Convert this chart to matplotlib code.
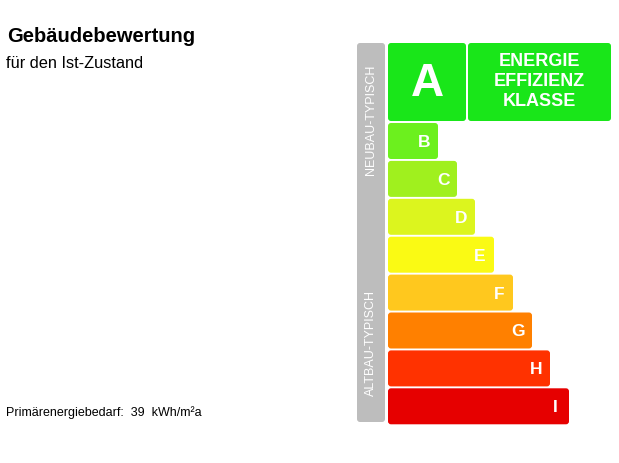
import matplotlib
matplotlib.use("Agg")
import matplotlib.pyplot as plt
from matplotlib.patches import FancyBboxPatch

plt.rcParams['font.family'] = ['Liberation Sans', 'DejaVu Sans']

# data
classes = ['B', 'C', 'D', 'E', 'F', 'G', 'H', 'I']
class_colors = ['#6cf01e', '#a0f01e', '#dcf51e', '#fafa14', '#ffc81e', '#ff8000', '#ff3200', '#e60000']
bar_lengths = [50, 69, 87, 106, 125, 144, 162, 181]
title = 'Gebäudebewertung'
subtitle = 'für den Ist-Zustand'
demand_value = 39
demand_unit = 'kWh/m²a'
side_labels = ['NEUBAU-TYPISCH', 'ALTBAU-TYPISCH']
badge_lines = ['ENERGIE', 'EFFIZIENZ', 'KLASSE']
top_class = 'A'
top_color = '#19e619'
side_color = '#bdbdbd'

W, H = 619, 464
fig = plt.figure(figsize=(W / 100, H / 100), dpi=100)
ax = fig.add_axes([0, 0, 1, 1])
ax.set_xlim(0, W)
ax.set_ylim(H, 0)
ax.axis('off')


def rbox(x, y, w, h, color, r=3):
    p = FancyBboxPatch((x + r, y + r), w - 2 * r, h - 2 * r,
                       boxstyle=f"round,pad={r}", fc=color, ec='none')
    ax.add_patch(p)


# layout
x0 = 388
top = 44
big_h = 78
row_h = 36
gap = 1.9

# side gray column
rbox(357, top, 28, 379, side_color)
ax.text(371, 120, side_labels[0], rotation=90, ha='center', va='center',
        color='white', fontsize=9)
ax.text(371, 343, side_labels[1], rotation=90, ha='center', va='center',
        color='white', fontsize=9)

# class A and badge
rbox(x0, top, 78, big_h, top_color)
ax.text(x0 + 39, top + big_h / 2 + 1, top_class, ha='center', va='center',
        color='white', fontsize=33, fontweight='bold')
rbox(468, top, 143, big_h, top_color)
for i, line in enumerate(badge_lines):
    ax.text(539.5, 62 + i * 19.5, line, ha='center', va='center',
            color='white', fontsize=13, fontweight='bold')

# class bars
for i, (lab, col, ln) in enumerate(zip(classes, class_colors, bar_lengths)):
    y = top + big_h + 2 + i * (row_h + gap)
    rbox(x0, y, ln, row_h, col)
    ax.text(x0 + ln - 14, y + row_h / 2 + 0.5, lab, ha='center', va='center',
            color='white', fontsize=12.5, fontweight='bold')

# texts on left
ax.text(7, 37, title, ha='left', va='center', fontsize=14.5, fontweight='bold')
ax.text(6, 64, subtitle, ha='left', va='center', fontsize=11.8)
ax.text(6, 413, f'Primärenergiebedarf:  {demand_value}  {demand_unit}',
        ha='left', va='center', fontsize=9)

fig.savefig('out.png', dpi=100)
